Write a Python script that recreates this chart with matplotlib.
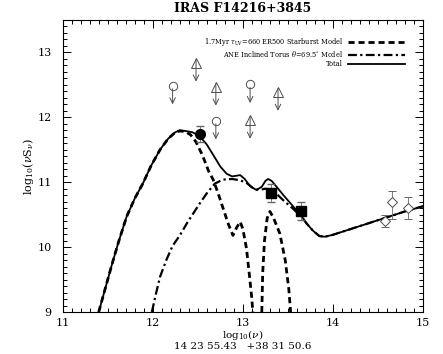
import matplotlib
matplotlib.use('Agg')
import matplotlib.pyplot as plt
import numpy as np

plt.rcParams['font.family'] = 'DejaVu Serif'
plt.rcParams['mathtext.fontset'] = 'dejavuserif'

# total model
total_x = [11.40, 11.47, 11.54, 11.62, 11.71, 11.80, 11.89, 11.98, 12.08, 12.17, 12.25, 12.30,
           12.36, 12.44, 12.52, 12.60, 12.68, 12.75, 12.82, 12.88, 12.93, 12.97, 13.02, 13.08,
           13.15, 13.21, 13.25, 13.28, 13.32, 13.38, 13.45, 13.55, 13.65, 13.71, 13.78, 13.85,
           13.91, 14.0, 14.2, 14.4, 14.6, 14.8, 15.0]
total_y = [9.0, 9.35, 9.70, 10.08, 10.47, 10.75, 10.98, 11.25, 11.50, 11.67, 11.77, 11.80,
           11.79, 11.77, 11.71, 11.58, 11.40, 11.24, 11.13, 11.09, 11.10, 11.11, 11.05, 10.94,
           10.88, 10.93, 11.02, 11.05, 11.02, 10.92, 10.80, 10.64, 10.48, 10.36, 10.25, 10.17,
           10.16, 10.19, 10.28, 10.37, 10.46, 10.55, 10.63]

# starburst model (gap where it falls below the plot)
sb_x = [11.40, 11.47, 11.54, 11.62, 11.71, 11.80, 11.89, 11.98, 12.08, 12.17, 12.25, 12.30,
        12.36, 12.42, 12.48, 12.55, 12.62, 12.67, 12.72, 12.78, 12.84, 12.89, 12.93, 12.97,
        13.00, 13.04, 13.07, 13.10, 13.11, np.nan,
        13.21, 13.22, 13.24, 13.27, 13.30, 13.34, 13.41, 13.47, 13.51, 13.53]
sb_y = [9.0, 9.35, 9.70, 10.08, 10.47, 10.75, 10.98, 11.25, 11.50, 11.67, 11.77, 11.79,
        11.78, 11.73, 11.62, 11.42, 11.17, 11.04, 10.85, 10.60, 10.35, 10.18, 10.30, 10.39,
        10.28, 9.98, 9.60, 9.20, 9.0, np.nan,
        9.0, 9.60, 10.10, 10.45, 10.55, 10.45, 10.21, 9.80, 9.35, 9.0]

# torus model
tor_x = [11.99, 12.03, 12.08, 12.15, 12.22, 12.30, 12.38, 12.45, 12.52, 12.60, 12.69, 12.78,
         12.88, 12.97, 13.05, 13.12, 13.18, 13.25, 13.30, 13.36, 13.45, 13.55, 13.65, 13.71,
         13.78, 13.85, 13.91, 14.0, 14.2, 14.4, 14.6, 14.8, 15.0]
tor_y = [9.0, 9.25, 9.54, 9.80, 10.02, 10.18, 10.37, 10.52, 10.67, 10.83, 10.98, 11.04,
         11.05, 11.03, 10.98, 10.90, 10.88, 10.90, 10.89, 10.84, 10.72, 10.60, 10.47, 10.36,
         10.25, 10.17, 10.16, 10.19, 10.28, 10.37, 10.46, 10.55, 10.63]

# photometry
circ_x = [12.52]
circ_y = [11.74]
circ_err = [0.12]
sq_x = [13.31, 13.645]
sq_y = [10.83, 10.56]
sq_err = [0.14, 0.14]
dia_x = [14.58, 14.655, 14.836]
dia_y = [10.40, 10.69, 10.60]
dia_err_lo = [0.09, 0.26, 0.17]
dia_err_hi = [0.09, 0.17, 0.17]

# upper limits (open circles) and arrows with open triangles
ul_x = [12.22, 12.70, 13.08]
ul_y = [12.49, 11.95, 12.51]
tri_x = [12.48, 12.70, 13.08, 13.39]
tri_y = [12.84, 12.47, 11.96, 12.39]
arrow_len = 0.29

fig = plt.figure(figsize=(4.43, 3.54), dpi=100)
ax = fig.add_axes([0.1415, 0.1186, 0.8135, 0.825])

ax.plot(sb_x, sb_y, color='black', lw=2.0, ls=(0, (2.2, 1.4)),
        label=r'1.7Myr $\tau_{\rm UV}$=660 ER500 Starburst Model')
ax.plot(tor_x, tor_y, color='black', lw=1.6, ls=(0, (4, 1.5, 1, 1.5)),
        label=r'ANE Inclined Torus $\theta$=69.5$^{\circ}$ Model')
ax.plot(total_x, total_y, color='black', lw=1.3, label='Total')

ax.errorbar(circ_x, circ_y, yerr=circ_err, fmt='o', color='black', ms=7, capsize=3, elinewidth=0.6,
            ecolor='0.4')
ax.errorbar(sq_x, sq_y, yerr=sq_err, fmt='s', color='black', ms=6.5, capsize=3, elinewidth=0.6,
            ecolor='0.4')
ax.errorbar(dia_x, dia_y, yerr=[dia_err_lo, dia_err_hi], fmt='D', mfc='white', mec='0.3',
            ms=5.5, capsize=3, elinewidth=0.6, ecolor='0.4', mew=0.7)

for x, y in zip(ul_x, ul_y):
    ax.plot(x, y, 'o', mfc='white', mec='0.3', ms=6, mew=0.7)
    ax.annotate('', xy=(x, y - arrow_len), xytext=(x, y - 0.05),
                arrowprops=dict(arrowstyle='->', color='0.3', lw=0.7, shrinkA=0, shrinkB=0))
for x, y in zip(tri_x, tri_y):
    ax.plot(x, y, '^', mfc='white', mec='0.3', ms=7, mew=0.7)
    ax.annotate('', xy=(x, y - arrow_len), xytext=(x, y + 0.05),
                arrowprops=dict(arrowstyle='->', color='0.3', lw=0.7, shrinkA=0, shrinkB=0))

ax.set_xlim(11, 15)
ax.set_ylim(9, 13.5)
ax.set_xticks([11, 12, 13, 14, 15])
ax.set_yticks([9, 10, 11, 12, 13])
ax.set_xticks(np.arange(11, 15.01, 0.1), minor=True)
ax.set_yticks(np.arange(9, 13.51, 0.1), minor=True)
ax.tick_params(which='both', direction='in', top=True, right=True, labelsize=8, width=0.7)
ax.tick_params(which='major', length=6)
ax.tick_params(which='minor', length=3)
ax.tick_params(axis='x', which='major', pad=4)
ax.tick_params(axis='y', which='major', pad=8)
for s in ax.spines.values():
    s.set_linewidth(0.8)

ax.set_title('IRAS F14216+3845', fontsize=9, fontweight='bold', pad=6)
ax.set_xlabel(r'log$_{10}$($\nu$)' + '\n14 23 55.43   +38 31 50.6', fontsize=7.5, labelpad=0,
              linespacing=1.0)
ax.set_ylabel(r'log$_{10}$($\nu$S$_{\nu}$)', fontsize=8, labelpad=1)

ax.legend(loc='upper right', frameon=False, fontsize=4.8, markerfirst=False, handlelength=8.5,
          borderpad=0, borderaxespad=0, labelspacing=0.15, handletextpad=0.8,
          bbox_to_anchor=(0.95, 0.945))

fig.savefig('out.png', dpi=100)
